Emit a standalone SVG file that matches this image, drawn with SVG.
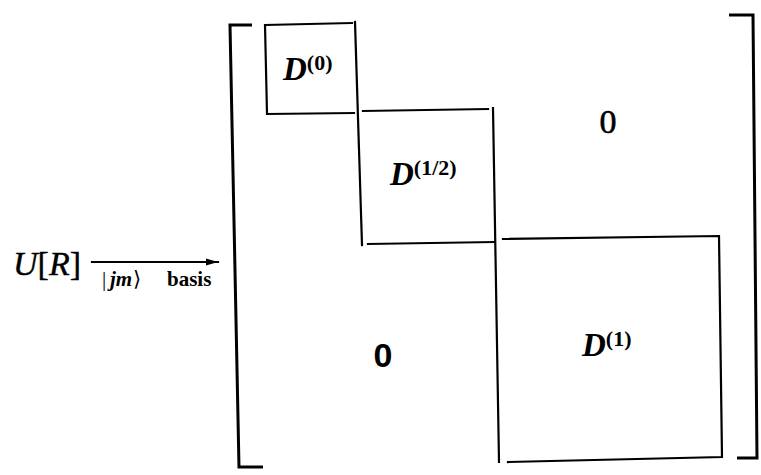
<svg xmlns="http://www.w3.org/2000/svg" width="761" height="475" viewBox="0 0 761 475">
<style>
.ln{stroke:#000;stroke-width:2.2;fill:none;stroke-linecap:square}
.br{stroke:#000;stroke-width:3;fill:none}
.D{font-family:"Liberation Serif",serif;font-style:italic;font-weight:bold;font-size:33px;fill:#000}
.sup{font-family:"Liberation Serif",serif;font-weight:bold;font-size:22px;font-style:normal}
.U{font-family:"Liberation Serif",serif;font-style:italic;font-weight:normal;font-size:34px;fill:#000;stroke:#000;stroke-width:0.4}
.zero{font-family:"Liberation Serif",serif;font-size:34px;fill:#000;stroke:#000;stroke-width:0.6}
.zeros{font-family:"Liberation Sans",sans-serif;font-weight:bold;font-size:34px;fill:#000}
.lbl{font-family:"Liberation Serif",serif;font-size:21px;fill:#000}
</style>
<defs>
<marker id="ah" viewBox="0 0 12 8" refX="12" refY="4" markerWidth="12" markerHeight="8" markerUnits="userSpaceOnUse" orient="auto">
<path d="M0,0.5 L12,4 L0,7.5 Z" fill="#000"/>
</marker>
</defs>
<g id="left-bracket"><path class="br" d="M252,25 H230 L239,467 H263"/></g>
<g id="right-bracket"><path class="br" d="M729,15 H753 L757,458 H737"/></g>
<g id="block-D0">
<path class="ln" d="M352,23 L265,25 L267,114 L354,113"/>
<path class="ln" d="M355,22 L362,245"/>
<text class="D" x="283" y="80">D<tspan class="sup" dy="-10">(0)</tspan></text>
</g>
<g id="block-D12">
<path class="ln" d="M363,111 L488,109"/>
<path class="ln" d="M493,108 L499,462"/>
<path class="ln" d="M368,244 L494,242"/>
<text class="D" x="390" y="185">D<tspan class="sup" dy="-10">(1/2)</tspan></text>
</g>
<g id="block-D1">
<path class="ln" d="M503,239 L719,236 L722,457 L508,462"/>
<text class="D" x="582" y="356">D<tspan class="sup" dy="-10">(1)</tspan></text>
</g>
<g id="zero-upper"><text class="zero" x="608" y="133" text-anchor="middle">0</text></g>
<g id="zero-lower"><text class="zeros" x="383" y="367" text-anchor="middle">0</text></g>
<g id="U"><text class="U" x="13" y="275">U<tspan font-style="normal">[</tspan>R<tspan font-style="normal">]</tspan></text></g>
<g id="connectors">
<line class="ln" x1="92" y1="262" x2="218" y2="262" marker-end="url(#ah)" stroke-width="1.8"/>
<text class="lbl" y="286"><tspan x="102">|</tspan><tspan x="110" font-style="italic" font-weight="bold">jm</tspan><tspan x="133">⟩</tspan><tspan x="167" font-weight="bold">basis</tspan></text>
</g>
</svg>
